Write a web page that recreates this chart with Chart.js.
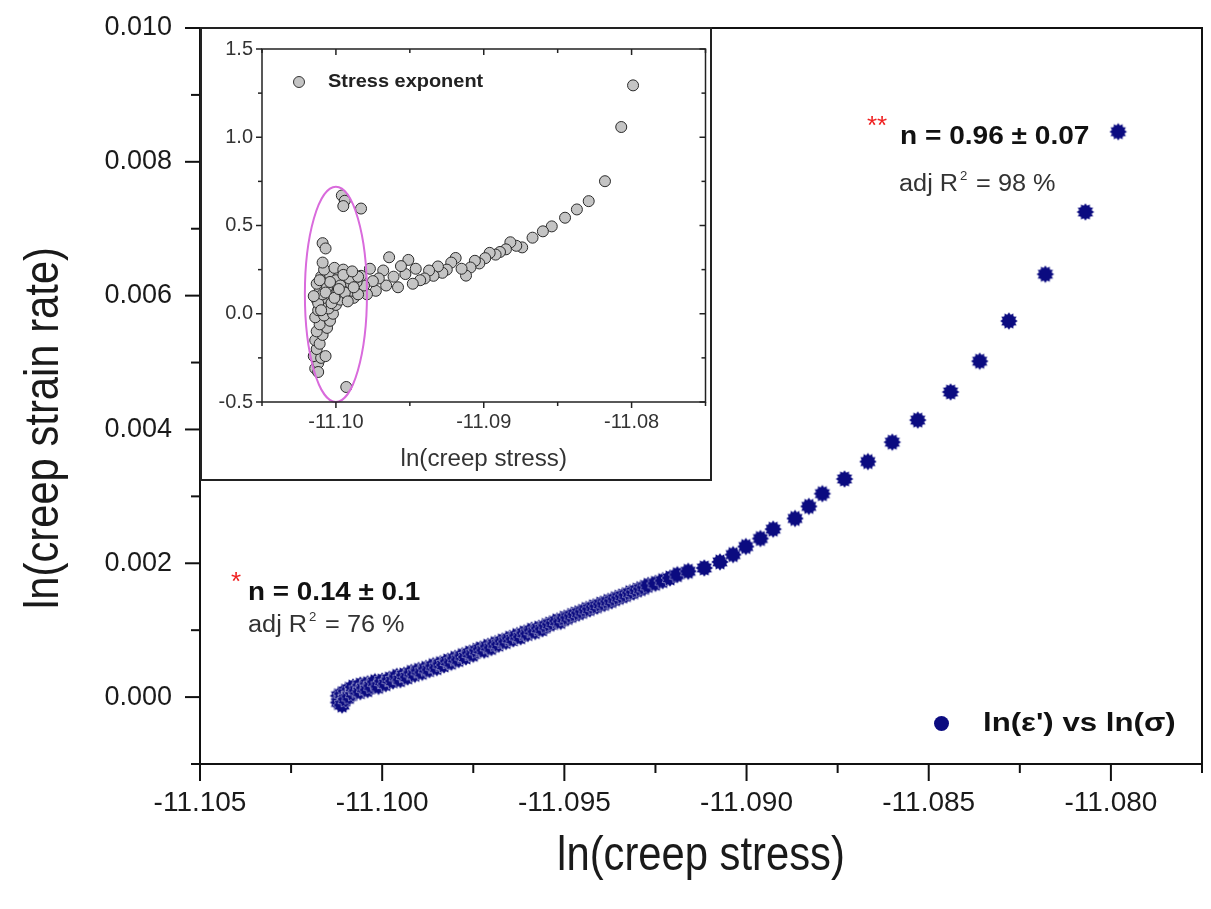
<!DOCTYPE html>
<html>
<head>
<meta charset="utf-8">
<script src="https://cdn.jsdelivr.net/npm/chart.js@4.4.1/dist/chart.umd.min.js"></script>
<style>
    body { margin: 0; background: #fff; }
    #wrap { position: relative; width: 1211px; height: 909px; }
    #main { position: absolute; left: 0; top: 0; }
    #inset { position: absolute; left: 200px; top: 27px; background: #fff; }
</style>
</head>
<body>
<div id="wrap">
    <canvas id="main" width="1211" height="909"></canvas>
    <canvas id="inset" width="512" height="454"></canvas>
</div>
<script>
// ln(creep stress) vs ln(creep strain rate)
const stress_x = [
    -11.1012, -11.1012, -11.1011, -11.1011, -11.1010, -11.1010, -11.1009, -11.1009, -11.1008, -11.1008,
    -11.1007, -11.1006, -11.1006, -11.1005, -11.1004, -11.1004, -11.1003, -11.1002, -11.1001, -11.1000,
    -11.0999, -11.0998, -11.0997, -11.0996, -11.0995, -11.0994, -11.0993, -11.0992, -11.0991, -11.0990,
    -11.0989, -11.0988, -11.0987, -11.0986, -11.0985, -11.0984, -11.0983, -11.0982, -11.0981, -11.0980,
    -11.0979, -11.0978, -11.0977, -11.0976, -11.0975, -11.0974, -11.0973, -11.0972, -11.0971, -11.0970,
    -11.0969, -11.0968, -11.0967, -11.0966, -11.0965, -11.0964, -11.0963, -11.0962, -11.0961, -11.0960,
    -11.0959, -11.0958, -11.0957, -11.0956, -11.0955, -11.0954, -11.0953, -11.0952, -11.0951, -11.0950,
    -11.0949, -11.0948, -11.0947, -11.0946, -11.0945, -11.0944, -11.0943, -11.0942, -11.0941, -11.0940,
    -11.0939, -11.0938, -11.0937, -11.0936, -11.0935, -11.0934, -11.0933, -11.0932, -11.0931, -11.0930,
    -11.0929, -11.0928, -11.0927, -11.0925, -11.0923, -11.0921, -11.0919, -11.0916,
    -11.09116, -11.09073, -11.09037, -11.09002, -11.08962, -11.08927, -11.08867, -11.08829, -11.08792, -11.08731,
    -11.08667, -11.0860, -11.0853, -11.0844, -11.0836, -11.0828, -11.0818, -11.0807, -11.0798
];
const strain_y = [
    0.00002, -0.00008, 0.00005, -0.00012, 0.00009, -0.00003, 0.00012, 0.00001, 0.00006, 0.00015,
    0.00010, 0.00018, 0.00008, 0.00014, 0.00020, 0.00011, 0.00017, 0.00023, 0.00016, 0.00024,
    0.00020, 0.00027, 0.00024, 0.00031, 0.00026, 0.00033, 0.00030, 0.00037, 0.00034, 0.00040,
    0.00037, 0.00043, 0.00041, 0.00047, 0.00044, 0.00050, 0.00048, 0.00054, 0.00052, 0.00058,
    0.00056, 0.00062, 0.00060, 0.00066, 0.00064, 0.00070, 0.00072, 0.00070, 0.00076, 0.00074,
    0.00080, 0.00079, 0.00084, 0.00083, 0.00088, 0.00087, 0.00092, 0.00090, 0.00096, 0.00095,
    0.00100, 0.00098, 0.00103, 0.00102, 0.00107, 0.00109, 0.00111, 0.00114, 0.00113, 0.00118,
    0.00119, 0.00122, 0.00124, 0.00126, 0.00128, 0.00131, 0.00132, 0.00135, 0.00136, 0.00139,
    0.00140, 0.00143, 0.00144, 0.00147, 0.00149, 0.00151, 0.00153, 0.00156, 0.00157, 0.00160,
    0.00162, 0.00164, 0.00167, 0.00170, 0.00174, 0.00178, 0.00183, 0.00188,
    0.00193, 0.00202, 0.00213, 0.00225, 0.00237, 0.00251, 0.00267, 0.00285, 0.00304, 0.00326,
    0.00352, 0.00381, 0.00414, 0.00456, 0.00502, 0.00562, 0.00632, 0.00725, 0.00845
];

// inset: stress exponent vs ln(creep stress)
const exponent_x = [
    -11.0799, -11.0807, -11.0818, -11.0829, -11.0837, -11.0845, -11.0854, -11.0860, -11.0867, -11.0874,
    -11.0878, -11.0882, -11.0885, -11.0889, -11.0892, -11.0896, -11.0899, -11.0903, -11.0906, -11.0909,
    -11.0912, -11.0915, -11.0919, -11.0922, -11.0925, -11.0928, -11.0931, -11.0934, -11.0937, -11.0940,
    -11.0943, -11.0946, -11.0948, -11.0951, -11.0953, -11.0956, -11.0958, -11.0961, -11.0964, -11.0966,
    -11.0968, -11.0971, -11.0973, -11.0975, -11.0977, -11.0979, -11.0981, -11.0983, -11.0983,
    -11.1014, -11.1012, -11.1015, -11.1010, -11.1007, -11.1013, -11.1014, -11.1011, -11.1009, -11.1013,
    -11.1006, -11.1011, -11.1004, -11.1014, -11.1008, -11.1002, -11.1012, -11.1005, -11.1010, -11.1000,
    -11.1013, -11.1008, -11.1003, -11.0997, -11.0992, -11.0988, -11.1011, -11.1005, -11.0999, -11.0994,
    -11.0989, -11.0985, -11.1013, -11.1007, -11.1001, -11.0996, -11.0990, -11.0986, -11.1010, -11.1004,
    -11.0998, -11.0992, -11.0987, -11.1008, -11.1001, -11.0995, -11.1009,
    -11.1009, -11.1007, -11.0996, -11.0994, -11.0995, -11.0993, -11.1012,
    -11.1012, -11.1009, -11.1006, -11.1003, -11.1000, -11.0997, -11.0994, -11.0991, -11.0988, -11.0985,
    -11.1010, -11.1007, -11.1004, -11.1001, -11.0998, -11.0995, -11.0992, -11.0989, -11.1015, -11.1011
];
const exponent_y = [
    1.294, 1.058, 0.751, 0.638, 0.591, 0.544, 0.495, 0.467, 0.431, 0.376,
    0.385, 0.405, 0.365, 0.350, 0.335, 0.345, 0.315, 0.285, 0.300, 0.262,
    0.216, 0.255, 0.316, 0.290, 0.250, 0.232, 0.268, 0.215, 0.245, 0.200,
    0.190, 0.255, 0.170, 0.305, 0.225, 0.270, 0.150, 0.210, 0.320, 0.160,
    0.245, 0.200, 0.130, 0.185, 0.255, 0.110, 0.160, 0.215, 0.596,
    -0.31, -0.28, -0.24, -0.25, -0.24, -0.20, -0.15, -0.17, -0.12, -0.10,
    -0.08, -0.06, -0.04, -0.02, -0.01, 0.00, 0.02, 0.03, 0.05, 0.05,
    0.08, 0.09, 0.10, 0.08, 0.10, 0.09, 0.13, 0.14, 0.12, 0.15,
    0.13, 0.11, 0.17, 0.18, 0.17, 0.19, 0.17, 0.18, 0.21, 0.22,
    0.21, 0.23, 0.20, 0.25, 0.26, 0.25, 0.29,
    0.40, 0.37, 0.67, 0.64, 0.61, -0.415, -0.33,
    0.06, 0.11, 0.15, 0.06, 0.19, 0.16, 0.12, 0.20, 0.15, 0.21,
    0.02, 0.12, 0.18, 0.09, 0.14, 0.22, 0.07, 0.24, 0.10, 0.19
];

const x_tick_labels = [-11.105, -11.100, -11.095, -11.090, -11.085, -11.080];
const y_tick_labels = [0.000, 0.002, 0.004, 0.006, 0.008, 0.010];
const inset_x_tick_labels = [-11.10, -11.09, -11.08];
const inset_y_tick_labels = [-0.5, 0.0, 0.5, 1.0, 1.5];

const FONT = '"Liberation Sans", Arial, sans-serif';
const NAVY = '#0b0b80';

function label_for(list, v, digits) {
    const hit = list.find(t => Math.abs(t - v) < 1e-7);
    return hit === undefined ? '' : hit.toFixed(digits);
}
function is_major(list, v) {
    return list.some(t => Math.abs(t - v) < 1e-7);
}
// chart area must sit exactly where the reference frame is
function fix_box(size_key, size) {
    return s => {
        s[size_key] = size;
        s.paddingTop = s.paddingBottom = s.paddingLeft = s.paddingRight = 0;
    };
}

// spiky marker like the origin star symbol
function make_starburst(r_out, r_in, spikes) {
    const size = Math.ceil(r_out * 2 + 2);
    const c = document.createElement('canvas');
    c.width = size;
    c.height = size;
    const g = c.getContext('2d');
    g.translate(size / 2, size / 2);
    g.beginPath();
    for (let i = 0; i < spikes * 2; i++) {
        const r = i % 2 === 0 ? r_out : r_in;
        const a = Math.PI * i / spikes;
        g.lineTo(r * Math.cos(a), r * Math.sin(a));
    }
    g.closePath();
    g.fillStyle = NAVY;
    g.fill();
    g.strokeStyle = 'rgba(255,255,255,0.55)';
    g.lineWidth = 0.8;
    g.stroke();
    return c;
}

function line(ctx, x1, y1, x2, y2) {
    ctx.beginPath();
    ctx.moveTo(x1, y1);
    ctx.lineTo(x2, y2);
    ctx.stroke();
}

// text stretched along its own direction (the source figure is stretched)
function text_sx(ctx, txt, x, y, sx) {
    ctx.save();
    ctx.translate(x, y);
    ctx.scale(sx, 1);
    ctx.fillText(txt, 0, 0);
    const w = ctx.measureText(txt).width * sx;
    ctx.restore();
    return w;
}

function draw_adj(ctx, x, baseline, pct) {
    ctx.fillStyle = '#333';
    ctx.textAlign = 'left';
    ctx.textBaseline = 'alphabetic';
    ctx.font = `23px ${FONT}`;
    let w = text_sx(ctx, 'adj R', x, baseline, 1.1);
    ctx.font = `12px ${FONT}`;
    text_sx(ctx, '2', x + w + 2, baseline - 11, 1.1);
    w += 11;
    ctx.font = `23px ${FONT}`;
    text_sx(ctx, ' = ' + pct + ' %', x + w, baseline, 1.1);
}

const main_decor = {
    id: 'main_decor',
    afterDraw(chart) {
        const { ctx, chartArea: a, scales: { x, y } } = chart;
        ctx.save();
        ctx.strokeStyle = '#111';
        ctx.lineWidth = 2;
        ctx.strokeRect(a.left, a.top, a.right - a.left, a.bottom - a.top);
        x.ticks.forEach(t => {
            const px = x.getPixelForValue(t.value);
            line(ctx, px, a.bottom, px, a.bottom + (is_major(x_tick_labels, t.value) ? 17 : 9));
        });
        y.ticks.forEach(t => {
            const py = y.getPixelForValue(t.value);
            line(ctx, a.left, py, a.left - (is_major(y_tick_labels, t.value) ? 15 : 9), py);
        });

        // axis titles
        ctx.fillStyle = '#1a1a1a';
        ctx.font = `48px ${FONT}`;
        ctx.textAlign = 'center';
        ctx.textBaseline = 'middle';
        text_sx(ctx, 'ln(creep stress)', (a.left + a.right) / 2, 857, 0.87);
        ctx.save();
        ctx.translate(45, 428);
        ctx.rotate(-Math.PI / 2);
        text_sx(ctx, 'ln(creep strain rate)', 0, 0, 0.87);
        ctx.restore();

        // fit annotations
        ctx.textAlign = 'left';
        ctx.textBaseline = 'alphabetic';
        ctx.fillStyle = '#f02020';
        ctx.font = `26px ${FONT}`;
        ctx.fillText('*', 231, 590);
        ctx.fillText('**', 867, 134);
        ctx.fillStyle = '#111';
        ctx.font = `bold 26px ${FONT}`;
        text_sx(ctx, 'n = 0.14 \u00b1 0.1', 248, 600, 1.07);
        text_sx(ctx, 'n = 0.96 \u00b1 0.07', 900, 144, 1.08);
        draw_adj(ctx, 248, 632, '76');
        draw_adj(ctx, 899, 191, '98');

        // legend
        ctx.fillStyle = NAVY;
        ctx.beginPath();
        ctx.arc(941.5, 723.5, 7.5, 0, Math.PI * 2);
        ctx.fill();
        ctx.fillStyle = '#111';
        ctx.font = `bold 26px ${FONT}`;
        ctx.textBaseline = 'middle';
        text_sx(ctx, 'ln(\u03b5\') vs ln(\u03c3)', 983, 724, 1.2);
        ctx.restore();
    }
};

new Chart(document.getElementById('main'), {
    type: 'scatter',
    data: {
        datasets: [{
            label: "ln(\u03b5') vs ln(\u03c3)",
            data: stress_x.map((v, i) => ({ x: v, y: strain_y[i] })),
            pointStyle: make_starburst(9, 6.8, 12),
            pointRadius: 8
        }]
    },
    options: {
        responsive: false,
        animation: false,
        devicePixelRatio: 1,
        layout: { padding: { top: 28, right: 5, left: 0, bottom: 0 } },
        plugins: { legend: { display: false }, tooltip: { enabled: false } },
        scales: {
            x: {
                type: 'linear',
                min: -11.105,
                max: -11.0775,
                afterFit: fix_box('height', 145),
                grid: { display: false, drawTicks: false },
                border: { display: false },
                ticks: {
                    stepSize: 0.0025,
                    autoSkip: false,
                    maxRotation: 0,
                    padding: 22,
                    color: '#1a1a1a',
                    font: { family: FONT, size: 28 },
                    callback: v => label_for(x_tick_labels, v, 3)
                }
            },
            y: {
                min: -0.001,
                max: 0.010,
                afterFit: fix_box('width', 200),
                grid: { display: false, drawTicks: false },
                border: { display: false },
                ticks: {
                    stepSize: 0.001,
                    autoSkip: false,
                    padding: 28,
                    color: '#1a1a1a',
                    font: { family: FONT, size: 27 },
                    callback: v => label_for(y_tick_labels, v, 3)
                }
            }
        }
    },
    plugins: [main_decor]
});

const inset_decor = {
    id: 'inset_decor',
    afterDatasetsDraw(chart) {
        const { ctx, scales: { x, y } } = chart;
        ctx.save();
        // highlighted scatter region
        const cx = x.getPixelForValue(-11.1000);
        const cy = y.getPixelForValue(0.11);
        const rx = Math.abs(x.getPixelForValue(-11.1000 + 0.0021) - cx);
        const ry = Math.abs(y.getPixelForValue(0.11 + 0.61) - cy);
        ctx.strokeStyle = '#d96bdc';
        ctx.lineWidth = 2;
        ctx.beginPath();
        ctx.ellipse(cx, cy, rx, ry, 0, 0, Math.PI * 2);
        ctx.stroke();
        ctx.restore();
    },
    afterDraw(chart) {
        const { ctx, chartArea: a, scales: { x, y }, width, height } = chart;
        ctx.save();
        ctx.strokeStyle = '#222';
        ctx.lineWidth = 2;
        ctx.strokeRect(1, 1, width - 2, height - 2);
        ctx.lineWidth = 1.5;
        ctx.strokeRect(a.left, a.top, a.right - a.left, a.bottom - a.top);
        x.ticks.forEach(t => {
            const px = x.getPixelForValue(t.value);
            const len = is_major(inset_x_tick_labels, t.value) ? 6 : 4;
            line(ctx, px, a.bottom, px, a.bottom + len);
            line(ctx, px, a.top, px, a.top + len);
        });
        y.ticks.forEach(t => {
            const py = y.getPixelForValue(t.value);
            const len = is_major(inset_y_tick_labels, t.value) ? 6 : 4;
            line(ctx, a.left, py, a.left - len, py);
            line(ctx, a.right, py, a.right - len, py);
        });
        ctx.fillStyle = '#333';
        ctx.font = `23px ${FONT}`;
        ctx.textAlign = 'center';
        ctx.textBaseline = 'middle';
        text_sx(ctx, 'ln(creep stress)', (a.left + a.right) / 2, 433, 1.05);

        // legend
        ctx.fillStyle = '#c4c4c4';
        ctx.strokeStyle = '#333';
        ctx.lineWidth = 1;
        ctx.beginPath();
        ctx.arc(99, 55, 5.5, 0, Math.PI * 2);
        ctx.fill();
        ctx.stroke();
        ctx.fillStyle = '#222';
        ctx.font = `bold 19px ${FONT}`;
        ctx.textAlign = 'left';
        text_sx(ctx, 'Stress exponent', 128, 55, 1.05);
        ctx.restore();
    }
};

new Chart(document.getElementById('inset'), {
    type: 'scatter',
    data: {
        datasets: [{
            label: 'Stress exponent',
            data: exponent_x.map((v, i) => ({ x: v, y: exponent_y[i] })),
            pointStyle: 'circle',
            pointRadius: 5.5,
            backgroundColor: '#c4c4c4',
            borderColor: '#2a2a2a',
            borderWidth: 1
        }]
    },
    options: {
        responsive: false,
        animation: false,
        devicePixelRatio: 1,
        layout: { padding: { top: 22, right: 6, left: 0, bottom: 0 } },
        plugins: { legend: { display: false }, tooltip: { enabled: false } },
        scales: {
            x: {
                type: 'linear',
                min: -11.105,
                max: -11.075,
                afterFit: fix_box('height', 79),
                grid: { display: false, drawTicks: false },
                border: { display: false },
                ticks: {
                    stepSize: 0.005,
                    autoSkip: false,
                    maxRotation: 0,
                    padding: 8,
                    color: '#333',
                    font: { family: FONT, size: 20 },
                    callback: v => label_for(inset_x_tick_labels, v, 2)
                }
            },
            y: {
                min: -0.5,
                max: 1.5,
                afterFit: fix_box('width', 62),
                grid: { display: false, drawTicks: false },
                border: { display: false },
                ticks: {
                    stepSize: 0.25,
                    autoSkip: false,
                    padding: 9,
                    color: '#333',
                    font: { family: FONT, size: 20 },
                    callback: v => label_for(inset_y_tick_labels, v, 1)
                }
            }
        }
    },
    plugins: [inset_decor]
});
</script>
</body>
</html>
